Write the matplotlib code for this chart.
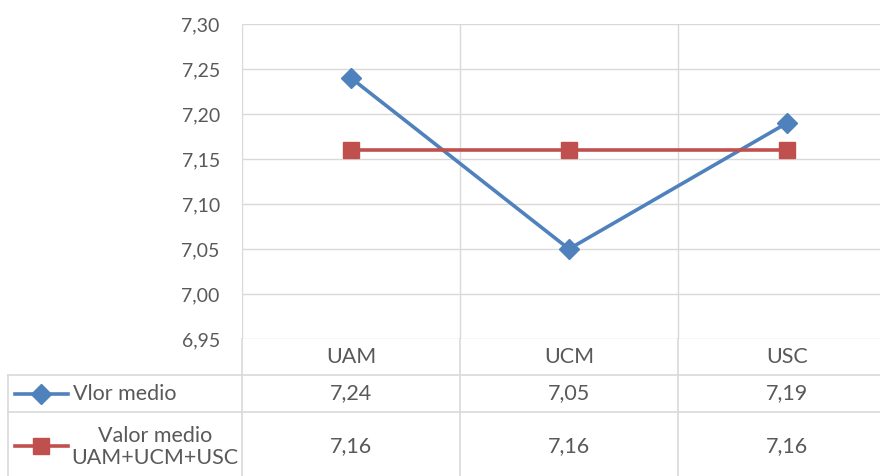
import numpy as np
import matplotlib.pyplot as plt
from matplotlib.transforms import blended_transform_factory

categories = ["UAM", "UCM", "USC"]
vlor_medio = [7.24, 7.05, 7.19]
valor_total = [7.16, 7.16, 7.16]
series_names = ["Vlor medio", "Valor medio\nUAM+UCM+USC"]
yticks = [6.95, 7.00, 7.05, 7.10, 7.15, 7.20, 7.25, 7.30]

plt.rcParams['font.family'] = ['Lato', 'DejaVu Sans']
txt = '#595959'
grid = '#d9d9d9'
blue = '#4f81bd'
red = '#c0504d'
fs_tick = 14
fs_tab = 15.5

W, H = 880, 476
fig = plt.figure(figsize=(W / 100, H / 100), dpi=100)
# plot area in pixels: left 242, right 896 (past edge), top 24, bottom 339
L, R, T, B = 242, 896, 24, 339
ax = fig.add_axes([L / W, 1 - B / H, (R - L) / W, (B - T) / H])

x = np.arange(len(categories))
ax.plot(x, vlor_medio, color=blue, lw=2.6, marker='D', ms=10, zorder=3)
ax.plot(x, valor_total, color=red, lw=2.6, marker='s', ms=11, zorder=3)

ax.set_xlim(-0.5, len(categories) - 0.5)
ax.set_ylim(yticks[0], yticks[-1])
ax.set_yticks(yticks)
ax.set_yticklabels([f"{v:.2f}".replace('.', ',') for v in yticks], color=txt, fontsize=fs_tick)
ax.tick_params(axis='y', length=0, pad=16)
ax.set_xticks([])
for v in yticks:
    ax.axhline(v, color=grid, lw=1, zorder=0)
for b in np.arange(-0.5, len(categories), 1.0):
    ax.axvline(b, color=grid, lw=1, zorder=0)
for s in ax.spines.values():
    s.set_visible(False)

# data table below the plot
tr = blended_transform_factory(ax.transData, ax.transAxes)
ph = B - T
rows = [0, -(375 - B) / ph, -(412 - B) / ph, -(480 - B) / ph]
left_edge = (8 - L) / (R - L)
kw = dict(color=grid, lw=1.2, clip_on=False)
for i in range(1, len(rows)):
    ax.plot([left_edge, 1], [rows[i], rows[i]], transform=ax.transAxes, **kw)
ax.plot([left_edge, left_edge], [rows[1], rows[-1]], transform=ax.transAxes, **kw)
for b in np.arange(-0.5, len(categories), 1.0):
    ax.plot([b, b], [0, rows[-1]], transform=tr, **kw)

for i, c in enumerate(categories):
    ax.text(i, (rows[0] + rows[1]) / 2, c, transform=tr, ha='center', va='center',
            color=txt, fontsize=fs_tab, clip_on=False)
for r, vals in enumerate([vlor_medio, valor_total]):
    yc = (rows[r + 1] + rows[r + 2]) / 2
    for i, v in enumerate(vals):
        ax.text(i, yc, f"{v:.2f}".replace('.', ','), transform=tr, ha='center',
                va='center', color=txt, fontsize=fs_tab, clip_on=False)

# legend keys in row headers
key_x = [(15 - L) / (R - L), (68 - L) / (R - L)]
key_m = (41 - L) / (R - L)
for r, (col, mk, ms) in enumerate([(blue, 'D', 10), (red, 's', 11)]):
    yc = (rows[r + 1] + rows[r + 2]) / 2
    ax.plot(key_x, [yc, yc], color=col, lw=2.6, transform=ax.transAxes, clip_on=False)
    ax.plot([key_m], [yc], color=col, marker=mk, ms=ms, transform=ax.transAxes, clip_on=False)
ax.text((73 - L) / (R - L), (rows[1] + rows[2]) / 2, series_names[0], transform=ax.transAxes,
        ha='left', va='center', color=txt, fontsize=fs_tab, clip_on=False)
ax.text((155 - L) / (R - L), -(447 - B) / ph, series_names[1],
        transform=ax.transAxes, ha='center', va='center', color=txt, fontsize=fs_tab,
        linespacing=1.1, clip_on=False)

fig.savefig('out.png', dpi=100)
